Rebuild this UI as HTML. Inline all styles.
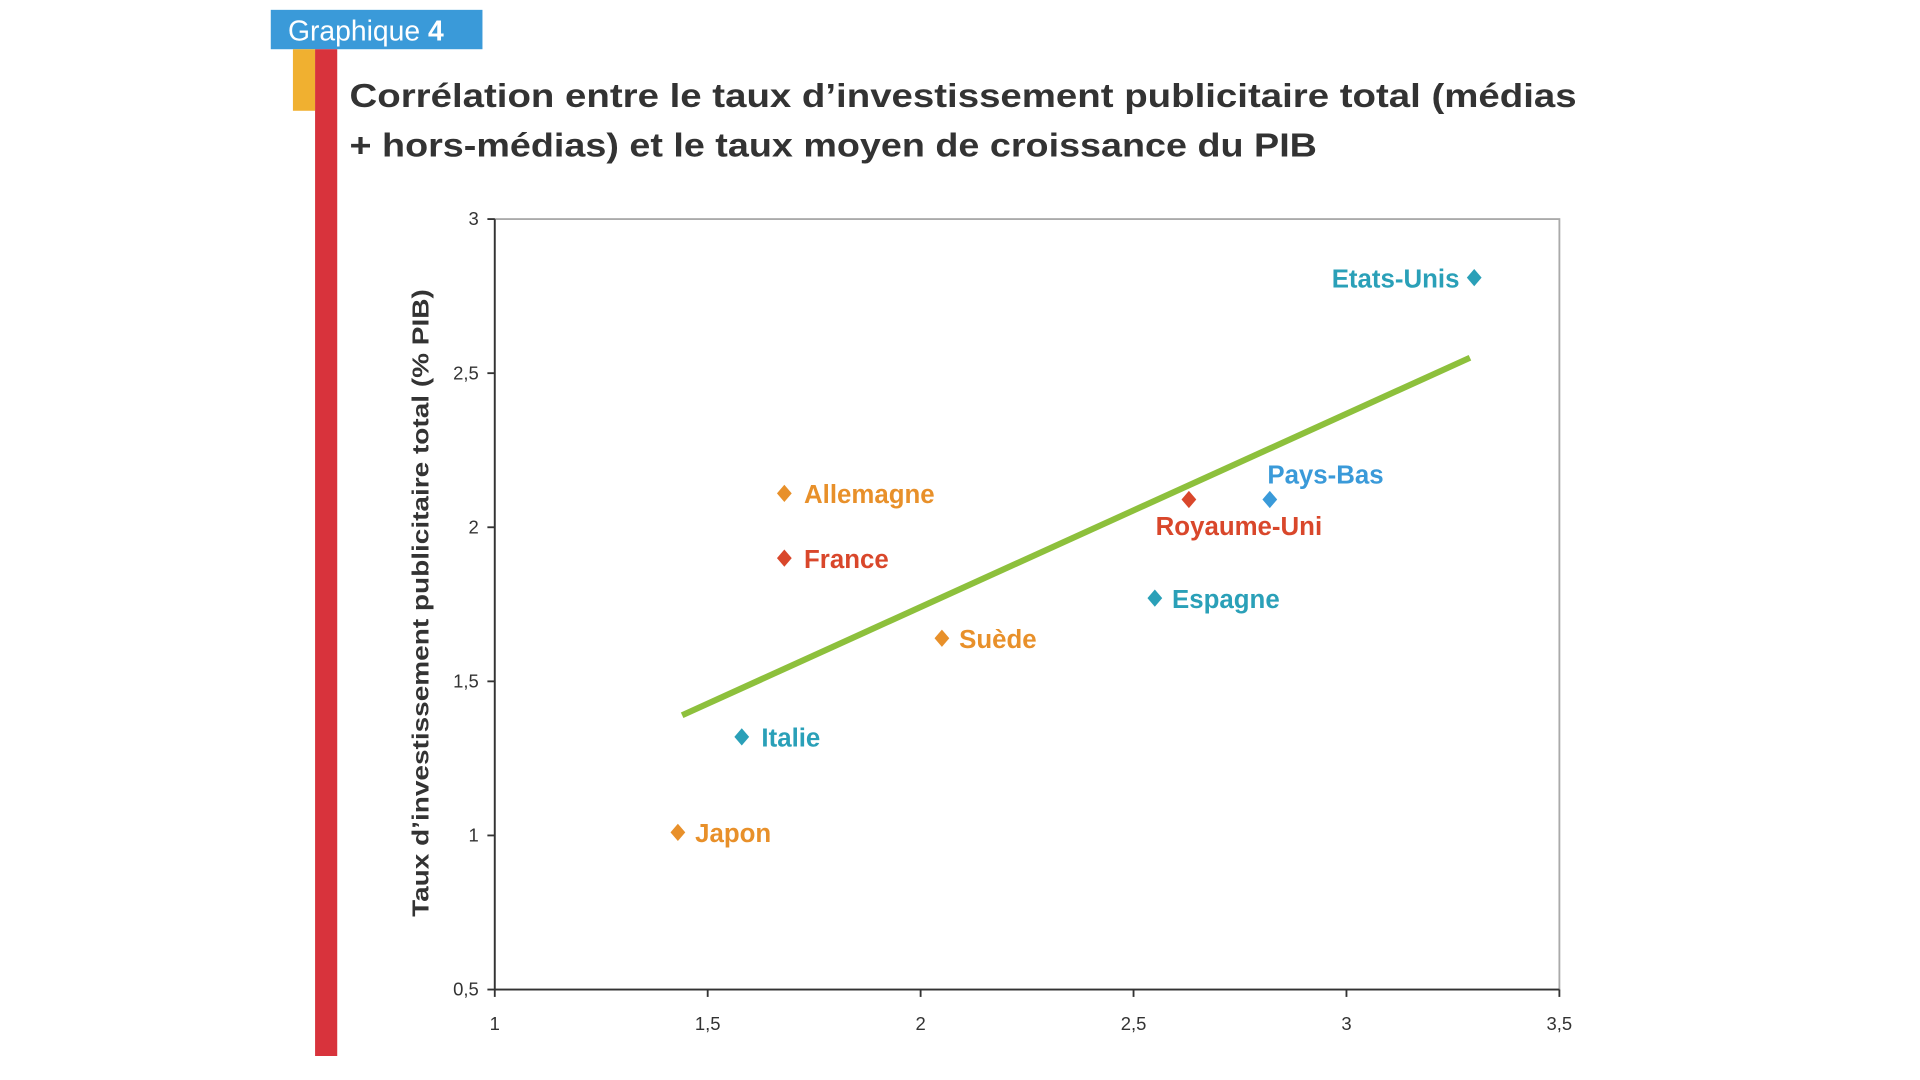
<!DOCTYPE html>
<html><head><meta charset="utf-8"><style>
html,body{margin:0;padding:0;background:#fff;width:1920px;height:1080px;overflow:hidden}
svg{display:block;font-family:"Liberation Sans",sans-serif}
</style></head><body>
<svg width="1920" height="1080" viewBox="0 0 1560 877.5" preserveAspectRatio="none" xmlns="http://www.w3.org/2000/svg">
<rect x="220" y="8" width="172" height="32" fill="#3a9ad9"/>
<text x="234" y="33" font-size="23" fill="#fff">Graphique <tspan font-weight="bold">4</tspan></text>
<rect x="238" y="40" width="18" height="50" fill="#f0b030"/>
<rect x="256" y="40" width="18" height="818" fill="#d8333c"/>
<text x="284" y="87" font-size="27" font-weight="bold" fill="#333" textLength="997" lengthAdjust="spacingAndGlyphs">Corrélation entre le taux d’investissement publicitaire total (médias</text>
<text x="284" y="127" font-size="27" font-weight="bold" fill="#333" textLength="786" lengthAdjust="spacingAndGlyphs">+ hors-médias) et le taux moyen de croissance du PIB</text>
<text transform="translate(348,490) rotate(-90)" x="-255" y="0" font-size="19" font-weight="bold" fill="#333" textLength="510" lengthAdjust="spacingAndGlyphs">Taux d’investissement publicitaire total (% PIB)</text>
<g id="axes"></g>
<g id="marks"></g>
<script>
const xTicks=[1,1.5,2,2.5,3,3.5];
const yTicks=[0.5,1,1.5,2,2.5,3];
const xTickLabels=["1","1,5","2","2,5","3","3,5"];
const yTickLabels=["0,5","1","1,5","2","2,5","3"];
const countries=["Etats-Unis","Pays-Bas","Royaume-Uni","Espagne","Suède","Allemagne","France","Italie","Japon"];
const growth=[3.3,2.82,2.63,2.55,2.05,1.68,1.68,1.58,1.43];
const adRate=[2.81,2.09,2.09,1.77,1.64,2.11,1.9,1.32,1.01];
const colors=["#2aa0b8","#3a9ad9","#d9472b","#2aa0b8","#e8902a","#e8902a","#d9472b","#2aa0b8","#e8902a"];
const trendX=[1.44,3.29];
const trendY=[1.39,2.55];
const L=402,R=1267,T=178,B=804;
const xs=v=>L+(v-1)/2.5*(R-L);
const ys=v=>B-(v-0.5)/2.5*(B-T);
const NS="http://www.w3.org/2000/svg";
function mk(tag,attrs,parent,txt){const e=document.createElementNS(NS,tag);for(const k in attrs)e.setAttribute(k,attrs[k]);if(txt!==undefined)e.textContent=txt;parent.appendChild(e);return e;}
const ax=document.getElementById('axes'),mg=document.getElementById('marks');
let e=mk('rect',{x:L,y:T,width:R-L,height:B-T,fill:'none',stroke:'#aaa','stroke-width':1.5},ax);


e=mk('line',{x1:L,y1:T,x2:L,y2:B,stroke:'#333','stroke-width':1.5},ax);


e=mk('line',{x1:L,y1:B,x2:R,y2:B,stroke:'#333','stroke-width':1.5},ax);


xTicks.forEach((v,i)=>{
 mk('line',{x1:xs(v),y1:B,x2:xs(v),y2:B+6,stroke:'#333','stroke-width':1.5},ax);
 const t=mk('text',{x:xs(v),y:837,'text-anchor':'middle','font-size':15,fill:'#333'},ax,xTickLabels[i]);
 
 
});
yTicks.forEach((v,i)=>{
 mk('line',{x1:L-6,y1:ys(v),x2:L,y2:ys(v),stroke:'#333','stroke-width':1.5},ax);
 const t=mk('text',{x:389,y:ys(v)+5,'text-anchor':'end','font-size':15,fill:'#333'},ax,yTickLabels[i]);
 
 
});
e=mk('line',{x1:xs(trendX[0]),y1:ys(trendY[0]),x2:xs(trendX[1]),y2:ys(trendY[1]),stroke:'#8dc03c','stroke-width':5},mg);


const off={"Etats-Unis":[-12,8,'end'],"Pays-Bas":[-2,-13,'start'],"Royaume-Uni":[-27,29,'start'],"Espagne":[14,8,'start'],"Suède":[14,8,'start'],"Allemagne":[16,8,'start'],"France":[16,8,'start'],"Italie":[16,8,'start'],"Japon":[14,8,'start']};
countries.forEach((c,i)=>{
 const x=xs(growth[i]),y=ys(adRate[i]);
 const p=mk('path',{d:`M${x} ${y-7}L${x+6} ${y}L${x} ${y+7}L${x-6} ${y}Z`,fill:colors[i]},mg);
 
 
 const o=off[c];
 const t=mk('text',{x:x+o[0],y:y+o[1],'text-anchor':o[2],'font-size':21,'font-weight':'bold',fill:colors[i]},mg,c);
 
 
});
</script>
</svg>
</body></html>
